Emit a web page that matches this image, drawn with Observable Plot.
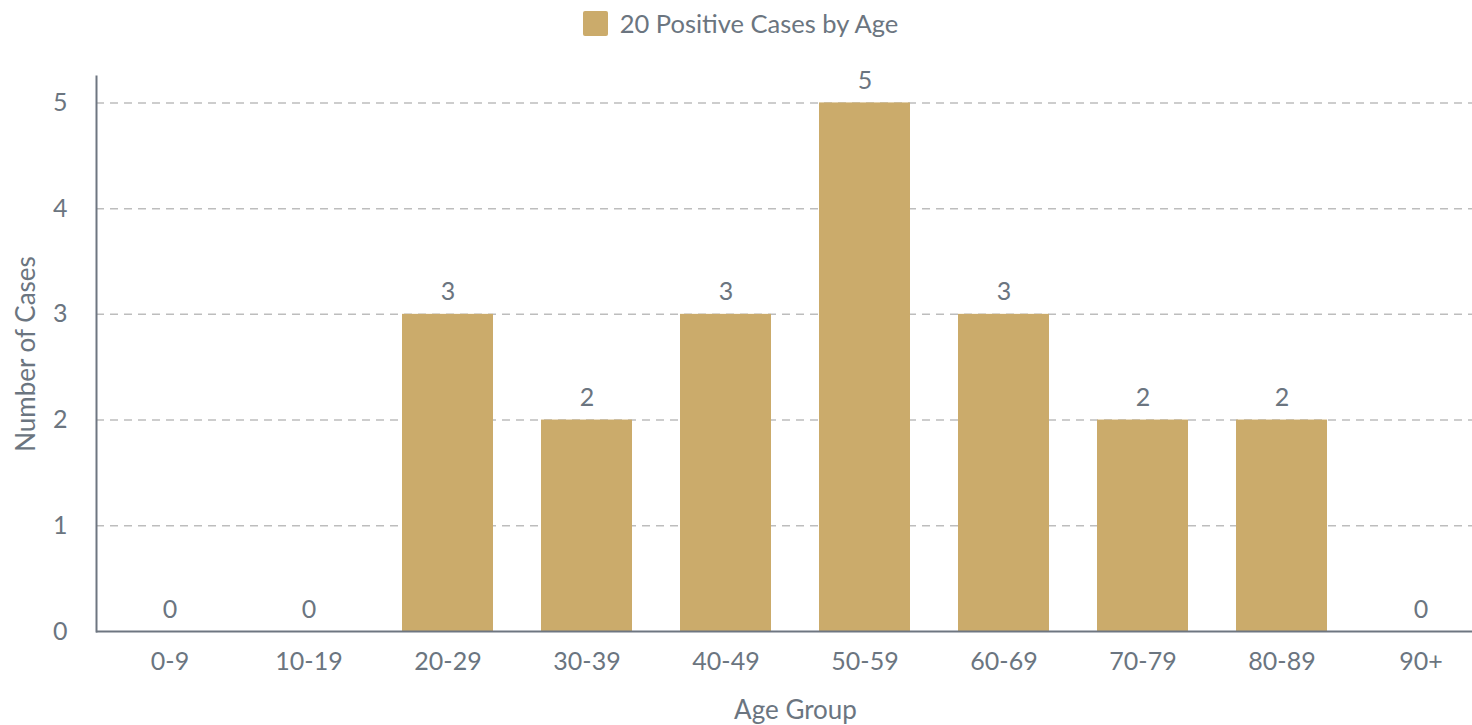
<!DOCTYPE html>
<html>
<head>
<meta charset="utf-8">
<script src="https://cdn.jsdelivr.net/npm/d3@7"></script>
<script src="https://cdn.jsdelivr.net/npm/@observablehq/plot@0.6"></script>
<style>
  body { margin: 0; background: #fff; font-family: Lato, sans-serif; }
  #legend { height: 46px; display: flex; justify-content: center; align-items: center; gap: 12px; color: #6b7580; font-size: 25.5px; padding-left: 9px; box-sizing: border-box; }
  #legend .sw { width: 25px; height: 25px; background: #cbab6b; border-radius: 2px; }
  #chart svg { display: block; overflow: hidden; }
</style>
</head>
<body>
<div id="legend"><span class="sw"></span><span>20 Positive Cases by Age</span></div>
<div id="chart"></div>
<script>
const ageGroups = ["0-9", "10-19", "20-29", "30-39", "40-49", "50-59", "60-69", "70-79", "80-89", "90+"];
const cases = [0, 0, 3, 2, 3, 5, 3, 2, 2, 0];
const yTicks = [0, 1, 2, 3, 4, 5];
const xTitle = "Age Group";
const yTitle = "Number of Cases";

const data = ageGroups.map((g, i) => ({group: g, value: cases[i]}));
const textColor = "#6b7580";
const fs = 25;

const chart = Plot.plot({
  width: 1472,
  height: 679,
  marginLeft: 96,
  marginRight: 0,
  marginTop: 30,
  marginBottom: 94,
  style: {fontFamily: "Lato, sans-serif", fontSize: fs + "px", color: textColor, background: "#fff"},
  x: {domain: ageGroups, paddingInner: 0.346, paddingOuter: 0.173, range: [98.5, 1490.5]},
  y: {domain: [0, 5.25]},
  marks: [
    Plot.gridY(yTicks.filter(d => d > 0), {stroke: "#bdbdbd", strokeOpacity: 1, strokeDasharray: "8,6", strokeWidth: 1.5}),
    Plot.barY(data, {x: "group", y: "value", fill: "#cbab6b"}),
    Plot.text(data, {x: "group", y: "value", text: d => String(d.value), dy: -22, fill: textColor, fontSize: fs}),
    Plot.axisY({ticks: yTicks, tickSize: 0, tickPadding: 29, tickFormat: d => d, fill: textColor, fontSize: fs, label: null}),
    Plot.axisX({tickSize: 0, tickPadding: 21, fill: textColor, fontSize: fs, label: null}),
    Plot.text([yTitle], {text: d => d, frameAnchor: "left", textAnchor: "middle", lineAnchor: "middle", rotate: -90, dx: -70, fill: textColor, fontSize: 26}),
    Plot.text([xTitle], {text: d => d, frameAnchor: "bottom", textAnchor: "middle", dx: 11, dy: 79, lineAnchor: "middle", fill: textColor, fontSize: 26}),
    Plot.frame({anchor: "left", stroke: "#6e7681", strokeWidth: 2}),
    Plot.ruleY([0], {stroke: "#6e7681", strokeWidth: 2})
  ]
});
document.getElementById("chart").appendChild(chart);
</script>
</body>
</html>
